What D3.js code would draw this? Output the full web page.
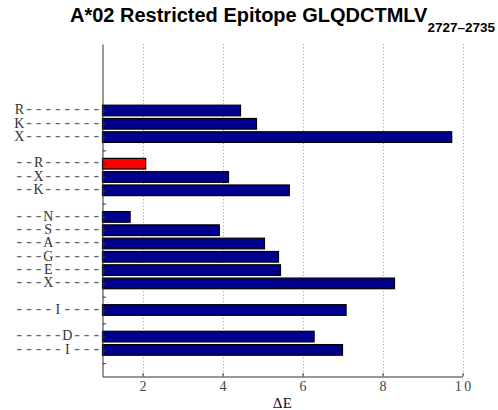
<!DOCTYPE html>
<html>
<head>
<meta charset="utf-8">
<script src="https://cdn.jsdelivr.net/npm/d3@7"></script>
<style>
  html, body { margin: 0; padding: 0; background: #fff; }
  svg { display: block; }
</style>
</head>
<body>
<div id="chart"></div>
<script>
// Mutated epitope variants (one row per label); "" rows are group separators.
const rowLabels = [
  "R--------", "K--------", "X--------", "",
  "--R------", "--X------", "--K------", "",
  "---N-----", "---S-----", "---A-----", "---G-----", "---E-----", "---X-----", "",
  "----I----", "",
  "-----D---", "-----I---", ""
];
// Change in binding energy for each row (null on separators).
const deltaE = [
  4.45, 4.85, 9.73, null,
  2.08, 4.15, 5.67, null,
  1.69, 3.92, 5.05, 5.40, 5.45, 8.30, null,
  7.09, null,
  6.29, 7.00, null
];
// Variant drawn in red.
const highlighted = ["--R------"];
const xTicks = [2, 4, 6, 8, 10];
const xDomain = [1, 10];
const titleMain = "A*02 Restricted Epitope GLQDCTMLV";
const titleSub = "2727\u20132735";
const xLabel = "\u0394E";

(function draw() {
  const W = 498, H = 410;
  const mLeft = 102.5, mRight = 462.5, mTop = 44, mBottom = 376.5;
  const firstRow = 5, slots = 25;
  const serif = "'Liberation Serif', 'Times New Roman', serif";
  const mono = "'Liberation Mono', monospace";
  const cell = 9.6; // fixed character cell, typewriter style

  // Rebuild a text element so every character sits centred in a fixed-width cell.
  // align: "end" -> grid ends at x0, "middle" -> grid centred on x0.
  function typewriter(textSel, x0, align, size) {
    textSel.each(function () {
      const str = this.textContent;
      const n = str.length;
      const start = align === "end" ? x0 - n * cell : x0 - n * cell / 2;
      const el = d3.select(this).text(null).attr("text-anchor", "middle");
      Array.from(str).forEach((ch, i) => {
        const dash = ch === "-";
        el.append("tspan")
          .attr("x", start + cell * (i + 0.5))
          .style("font-family", dash ? mono : serif)
          .attr("font-size", dash ? size + 2 : size)
          .attr("fill", dash ? "#666" : null)
          .text(ch);
      });
    });
  }

  const svg = d3.select("#chart").append("svg")
    .attr("width", W).attr("height", H);

  const x = d3.scaleLinear().domain(xDomain).range([mLeft, mRight]);
  const y = d3.scaleLinear().domain([0, slots]).range([mTop, mBottom]);
  const rows = rowLabels.map((label, i) => ({ label, value: deltaE[i], pos: i + firstRow }));
  const barH = (y(1) - y(0)) * 0.8;

  // dotted vertical grid
  svg.append("g").selectAll("line").data(xTicks).join("line")
    .attr("x1", d => Math.round(x(d)) + 0.5).attr("x2", d => Math.round(x(d)) + 0.5)
    .attr("y1", mTop).attr("y2", mBottom)
    .attr("stroke", "#9a9a9a").attr("stroke-width", 1)
    .attr("stroke-dasharray", "1,2.3");

  // bars
  svg.append("g").selectAll("rect").data(rows.filter(r => r.value != null)).join("rect")
    .attr("x", x(xDomain[0]))
    .attr("y", d => y(d.pos) - barH / 2)
    .attr("width", d => x(d.value) - x(xDomain[0]))
    .attr("height", barH)
    .attr("fill", d => highlighted.includes(d.label) ? "#ff0000" : "#00008c")
    .attr("stroke", "#000").attr("stroke-width", 1.2);

  // left axis (ticks point inward)
  const yAxis = d3.axisLeft(y)
    .tickValues(rows.map(r => r.pos))
    .tickFormat((d, i) => rows[i].label)
    .tickSizeInner(-3.5).tickSizeOuter(0).tickPadding(2);
  const gy = svg.append("g").attr("transform", `translate(${mLeft},0)`).call(yAxis);
  gy.select(".domain").attr("stroke", "#333");
  gy.selectAll(".tick line").attr("stroke", "#333");
  gy.selectAll(".tick text").attr("fill", "#333");
  typewriter(gy.selectAll(".tick text"), -1.5, "end", 14);

  // bottom axis
  const xAxis = d3.axisBottom(x).tickValues(xTicks).tickFormat(d3.format("d"))
    .tickSizeInner(-3.5).tickSizeOuter(0).tickPadding(7);
  const gx = svg.append("g").attr("transform", `translate(0,${mBottom})`).call(xAxis);
  gx.select(".domain").attr("stroke", "#333");
  gx.selectAll(".tick line").attr("stroke", "#333");
  gx.selectAll(".tick text").attr("fill", "#444");
  typewriter(gx.selectAll(".tick text"), 0, "middle", 14);

  // x label
  const xl = svg.append("text")
    .attr("y", 408).attr("fill", "#111")
    .text(xLabel);
  typewriter(xl, (mLeft + mRight) / 2, "middle", 15);

  // title with subscript residue range
  const t = svg.append("text")
    .attr("x", (mLeft + mRight) / 2).attr("y", 22)
    .attr("text-anchor", "middle")
    .style("font-family", "'Liberation Sans', Arial, sans-serif")
    .attr("font-weight", "bold").attr("fill", "#000");
  t.append("tspan").attr("font-size", 20).text(titleMain);
  t.append("tspan").attr("font-size", 13.5).attr("dy", 10).text(titleSub);
})();
</script>
</body>
</html>
